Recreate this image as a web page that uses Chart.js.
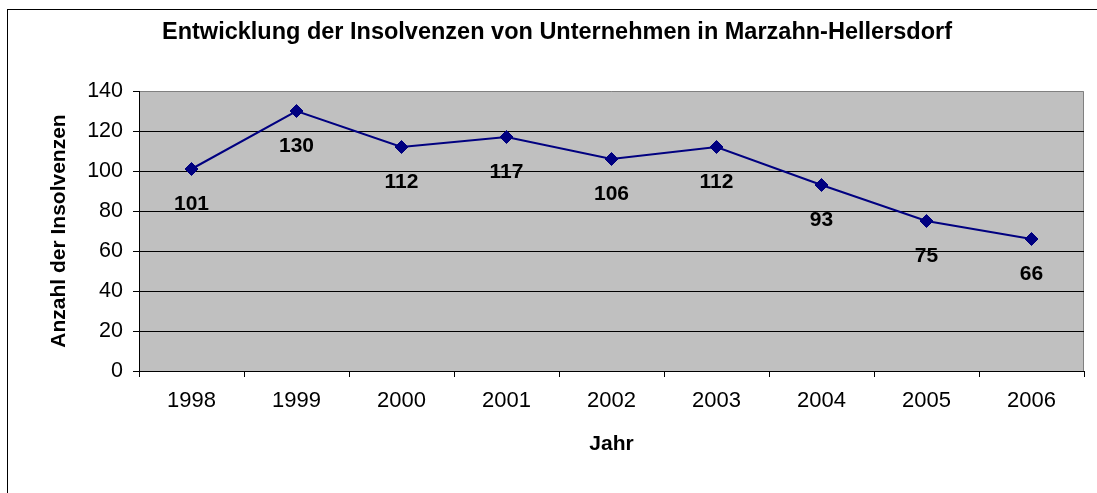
<!DOCTYPE html>
<html lang="de">
<head>
<meta charset="UTF-8">
<title>Insolvenzen Marzahn-Hellersdorf</title>
<script src="https://cdn.jsdelivr.net/npm/chart.js"></script>
<style>
    body { margin: 0; background: #fff; }
    .wrap { position: relative; width: 1097px; height: 493px; overflow: hidden; }
    .frame { position: absolute; left: 7px; top: 9px; width: 1200px; height: 600px; border: 1px solid #000; }
    canvas { position: absolute; left: 0; top: 0; }
</style>
</head>
<body>
<div class="wrap">
    <div class="frame"></div>
    <canvas id="chart" width="1097" height="493"></canvas>
</div>
<script>
    const jahre = ["1998", "1999", "2000", "2001", "2002", "2003", "2004", "2005", "2006"];
    const insolvenzen = [101, 130, 112, 117, 106, 112, 93, 75, 66];
    const yTicks = [0, 20, 40, 60, 80, 100, 120, 140];
    const titel = "Entwicklung der Insolvenzen von Unternehmen in Marzahn-Hellersdorf";

    const fontName = "'Liberation Sans', Arial, sans-serif";

    // grauer Hintergrund + Rahmen der Zeichenfläche
    const plotBg = {
        id: "plotBg",
        beforeDraw(chart) {
            const { ctx, chartArea: a } = chart;
            ctx.save();
            ctx.fillStyle = "#c0c0c0";
            ctx.fillRect(a.left, a.top, a.right - a.left, a.bottom - a.top);
            ctx.strokeStyle = "#808080";
            ctx.lineWidth = 1;
            ctx.beginPath();
            ctx.moveTo(a.left, a.top + 0.5);
            ctx.lineTo(a.right - 0.5, a.top + 0.5);
            ctx.lineTo(a.right - 0.5, a.bottom);
            ctx.stroke();
            ctx.restore();
        }
    };

    // Titel wie im Excel-Diagramm (nicht ganz mittig)
    const chartTitle = {
        id: "chartTitle",
        afterDraw(chart) {
            const ctx = chart.ctx;
            ctx.save();
            ctx.font = "bold 23.5px " + fontName;
            ctx.fillStyle = "#000";
            ctx.textAlign = "center";
            ctx.textBaseline = "alphabetic";
            ctx.fillText(titel, 557, 39);
            ctx.restore();
        }
    };

    // Werte unter den Punkten
    const valueLabels = {
        id: "valueLabels",
        afterDatasetsDraw(chart) {
            const ctx = chart.ctx;
            const meta = chart.getDatasetMeta(0);
            ctx.save();
            ctx.font = "bold 21px " + fontName;
            ctx.fillStyle = "#000";
            ctx.textAlign = "center";
            ctx.textBaseline = "alphabetic";
            meta.data.forEach((p, i) => {
                ctx.fillText(String(insolvenzen[i]), p.x, p.y + 41);
            });
            ctx.restore();
        }
    };

    new Chart(document.getElementById("chart").getContext("2d"), {
        type: "line",
        data: {
            labels: jahre,
            datasets: [{
                data: insolvenzen,
                borderColor: "#000080",
                backgroundColor: "#000080",
                borderWidth: 2,
                pointStyle: "rectRot",
                pointRadius: 6.5,
                pointBorderWidth: 1,
                tension: 0
            }]
        },
        options: {
            responsive: false,
            animation: false,
            layout: { padding: { left: 0, right: 13, top: 91, bottom: 0 } },
            plugins: {
                legend: { display: false },
                tooltip: { enabled: false },
                title: { display: false }
            },
            scales: {
                x: {
                    offset: true,
                    grid: { offset: true, drawOnChartArea: false, color: "#000", tickLength: 6 },
                    border: { color: "#000", width: 1 },
                    ticks: { color: "#000", padding: 11, font: { family: fontName, size: 22 } },
                    title: {
                        display: true,
                        text: "Jahr",
                        color: "#000",
                        font: { family: fontName, size: 21, weight: "bold" },
                        padding: { top: 0, bottom: 36 }
                    },
                    afterFit(scale) { scale.height = 122; }
                },
                y: {
                    min: 0,
                    max: 140,
                    afterBuildTicks(scale) { scale.ticks = yTicks.map(v => ({ value: v })); },
                    grid: {
                        color: c => c.tick && c.tick.value === 140 ? "rgba(0,0,0,0)" : "#000",
                        tickColor: "#000",
                        tickLength: 6
                    },
                    border: { color: "#000", width: 1 },
                    ticks: { color: "#000", padding: 10, font: { family: fontName, size: 21.5 } },
                    title: {
                        display: true,
                        text: "Anzahl der Insolvenzen",
                        color: "#000",
                        font: { family: fontName, size: 21, weight: "bold" },
                        padding: { top: 47, bottom: 0 }
                    },
                    afterFit(scale) { scale.width = 139; }
                }
            }
        },
        plugins: [plotBg, chartTitle, valueLabels]
    });
</script>
</body>
</html>
